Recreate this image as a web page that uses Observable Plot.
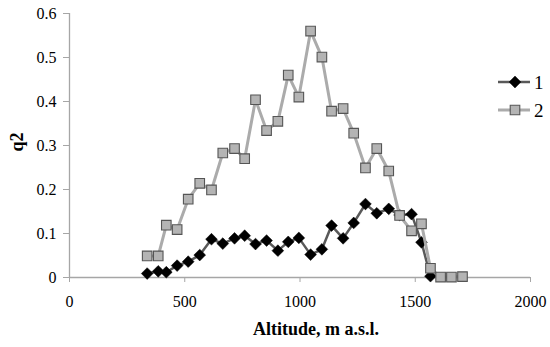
<!DOCTYPE html>
<html>
<head>
<meta charset="utf-8">
<script src="https://cdn.jsdelivr.net/npm/d3@7"></script>
<script src="https://cdn.jsdelivr.net/npm/@observablehq/plot@0.6"></script>
<style>
  html, body { margin: 0; padding: 0; background: #fff; }
  #wrap { position: relative; width: 550px; height: 347px; }
  #legend { position: absolute; left: 494px; top: 68px; }
  #wrap svg, #wrap svg text { font-family: "Liberation Serif", "Times New Roman", serif !important; }
</style>
</head>
<body>
<div id="wrap"></div>
<script>
// Altitude (m a.s.l.)
const altitude = [337, 385, 420, 467, 515, 565, 616, 665, 716, 760, 807, 855, 904, 949, 995,
                  1046, 1095, 1137, 1187, 1233, 1284, 1333, 1385, 1432, 1484, 1527, 1566, 1610, 1657, 1705];
// Series "1" (diamonds)
const series1 = [0.009, 0.014, 0.012, 0.027, 0.036, 0.051, 0.087, 0.077, 0.089, 0.095, 0.076, 0.084, 0.061, 0.081, 0.090,
                 0.052, 0.064, 0.118, 0.089, 0.124, 0.167, 0.146, 0.156, 0.142, 0.144, 0.080, 0.003];
// Series "2" (squares)
const series2 = [0.049, 0.049, 0.119, 0.109, 0.178, 0.214, 0.199, 0.283, 0.293, 0.270, 0.404, 0.334, 0.355, 0.460, 0.410,
                 0.560, 0.501, 0.378, 0.384, 0.328, 0.249, 0.293, 0.242, 0.141, 0.106, 0.122, 0.021, 0.001, 0.001, 0.002];
const xTicks = [0, 500, 1000, 1500, 2000];
const yTicks = [0, 0.1, 0.2, 0.3, 0.4, 0.5, 0.6];
const xTitle = "Altitude, m a.s.l.";
const yTitle = "q2";
const seriesNames = ["1", "2"];

const d1 = series1.map((v, i) => ({x: altitude[i], y: v}));
const d2 = series2.map((v, i) => ({x: altitude[i], y: v}));

const axisColor = "#a6a6a6";
const font = "Liberation Serif, serif";

const chart = Plot.plot({
  width: 550,
  height: 347,
  marginLeft: 69,
  marginRight: 20,
  marginTop: 13,
  marginBottom: 70,
  style: {fontFamily: font, fontSize: "16px", color: "#000", background: "#fff", overflow: "visible"},
  x: {domain: [0, 2000]},
  y: {domain: [0, 0.6]},
  marks: [
    Plot.axisX({ticks: xTicks, tickSize: 5, tickPadding: 13, stroke: axisColor, fill: "#000", label: null, tickFormat: d => String(d), fontSize: 16}),
    Plot.axisY({ticks: yTicks, tickSize: 6, tickPadding: 7, stroke: axisColor, fill: "#000", label: null, tickFormat: d => d === 0 ? "0" : d.toFixed(1), fontSize: 16}),
    Plot.ruleY([0], {stroke: axisColor, strokeWidth: 1.3}),
    Plot.ruleX([0], {stroke: axisColor, strokeWidth: 1.3}),
    Plot.line(d1, {x: "x", y: "y", stroke: "#595959", strokeWidth: 2.5}),
    Plot.dot(d1, {x: "x", y: "y", symbol: "diamond2", r: 5.3, fill: "#000", stroke: "#000", strokeWidth: 0.5}),
    Plot.line(d2, {x: "x", y: "y", stroke: "#ababab", strokeWidth: 3}),
    Plot.dot(d2, {x: "x", y: "y", symbol: "square", r: 5.4, fill: "#b4b4b4", stroke: "#555", strokeWidth: 1.1}),
    Plot.text([xTitle], {frameAnchor: "bottom", dx: 16, dy: 57, fontWeight: "bold", fontSize: 18, fill: "#000"}),
    Plot.text([yTitle], {frameAnchor: "left", dx: -52, dy: 6, rotate: -90, fontWeight: "bold", fontSize: 18, fill: "#000"})
  ]
});
document.getElementById("wrap").appendChild(chart);

// Legend
const lg = d3.select("#wrap").append("svg").attr("id", "legend").attr("width", 56).attr("height", 60);
const rows = [
  {name: seriesNames[0], line: "#595959", lw: 2.5, sym: d3.symbolDiamond2, size: Math.PI * 5.3 * 5.3, fill: "#000", stroke: "#000", sw: 0.5},
  {name: seriesNames[1], line: "#ababab", lw: 3, sym: d3.symbolSquare, size: Math.PI * 5.4 * 5.4, fill: "#b4b4b4", stroke: "#555", sw: 1.1}
];
rows.forEach((r, i) => {
  const g = lg.append("g").attr("transform", `translate(0,${14 + i * 28})`);
  g.append("line").attr("x1", 4).attr("x2", 36).attr("y1", 0).attr("y2", 0).attr("stroke", r.line).attr("stroke-width", r.lw);
  g.append("path").attr("d", d3.symbol(r.sym, r.size)()).attr("transform", "translate(21,0)")
    .attr("fill", r.fill).attr("stroke", r.stroke).attr("stroke-width", r.sw);
  g.append("text").attr("x", 40).attr("y", 0).attr("dy", "0.35em").attr("font-size", 19).text(r.name);
});
</script>
</body>
</html>
